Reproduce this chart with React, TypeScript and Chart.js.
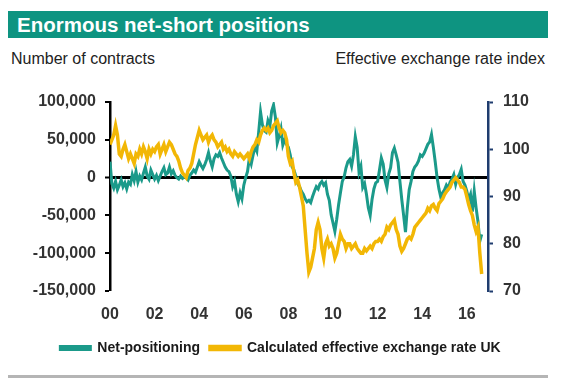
import React, { useEffect, useRef } from "react";
import { Chart, registerables } from "chart.js";

Chart.register(...registerables);

const TITLE = "Enormous net-short positions";
const LEFT_AXIS_TITLE = "Number of contracts";
const RIGHT_AXIS_TITLE = "Effective exchange rate index";
const SERIES_NAMES = ["Net-positioning", "Calculated effective exchange rate UK"];

// monthly observations starting January 2000
const START_YEAR = 2000;

// Net-positioning, thousands of contracts
const netPositioningK = [
  21, -8, -14, -5, -16, -10, -3, -12, -7, -15, -6, -9,
  4, -4, 8, -6, 2, -3, 6, 14, 2, -2, 10, 4,
  -2, 3, -4, 2, 8, 13, 4, 6, 14, 5, 9, 3,
  0, -2, 2, -1, 1, 0, -3, 3, 6, 10, 7, 14,
  21, 16, 12, 17, 24, 33, 22, 14, 25, 30, 28, 33,
  26, 20, 14, 10, 8, 2, -12, -5, -22, -32, -20, -28,
  -10, 0, 8, 26, 18, 30, 41, 35, 60, 87, 70, 62,
  60, 75, 68, 88, 96, 80, 46, 55, 65, 43, 50, 44,
  40, 30, 14, 10, 2, -8, -12, -18, -22, -28, -32, -30,
  -33, -25, -18, -12, -15, -8, -5, -10, -7, -22, -30, -49,
  -60, -71, -55, -36, -20, -5, 1, 13, 21, 24, 15, 30,
  54, 40, 7, 15, -13, -8, -22, -40, -50, -29, -15, -7,
  -5, 10, 26, 18, -3, -13, 5, 13, 33, 39, 30, 20,
  -5, -29, -50, -72, -40, -16, -5, 8, 14, 17, 22, 30,
  28, 32, 38, 44, 47, 57, 40, 21, 0, -15, -26, -20,
  -16, -10, -14, -6, -2, 4, -9, 0, 4, 11, -5, -10,
  -18, -29, -22, -45, -18, -40, -58, -84, -75,
];

// Calculated effective exchange rate UK, index
const exchangeRate = [
  101, 102, 103, 105, 103, 99, 98.5, 100, 101, 99.5, 98, 99,
  98, 97, 99, 98.5, 100, 99, 100.5, 99.5, 98, 100, 99, 100,
  99.5, 100.5, 101, 99, 100, 101, 99.5, 100.5, 101.5, 101, 100, 99,
  98.5, 97.5, 96, 95, 94.5, 94, 95.5, 96, 97, 99, 101, 102.5,
  104, 103, 102, 102.5, 103, 101.5, 102.5, 103, 102, 101.5, 100.5, 101,
  101.5, 100, 100.5, 99.5, 100, 99, 98.5, 99.5, 99, 98.5, 99, 98.5,
  98, 98.5, 99, 98, 99.5, 100.5, 101, 102, 101.5, 103, 104, 104.5,
  104, 104.5, 103.5, 104, 105, 105.5, 106, 104.5, 103.5, 104, 103.5, 102,
  98.5, 97, 97.5, 95, 93, 93.5, 92, 90, 88, 83, 78, 74,
  75, 77, 79, 83, 84.5, 83, 79, 77, 80, 81, 79.5, 80,
  79, 77, 78, 80, 82, 81, 80.5, 79, 80, 80, 79, 79.5,
  80, 79, 78.5, 78, 78, 79, 78.5, 79, 79.5, 79, 80, 80.5,
  80.5, 81, 80.5, 81.5, 82, 83.5, 83, 84, 84.5, 85, 83, 82,
  79.5, 78.4, 79, 80, 81, 81.4, 81, 82, 83.5, 84, 84.5, 85,
  85.5, 86, 86.5, 87.5, 87, 88, 88.3, 87.5, 87, 88.5, 89, 89.5,
  90.4, 91, 91.5, 92, 93, 93.5, 94, 93.5, 93, 92, 92, 91.5,
  90, 88.3, 87, 86, 84, 82.6, 83.5, 78, 73.6,
];

const X_TICK_YEARS = [2000, 2002, 2004, 2006, 2008, 2010, 2012, 2014, 2016];
const X_MIN = 2000;
const X_MAX = 2016.95;
const LEFT_MIN = -150000;
const LEFT_MAX = 100000;
const LEFT_STEP = 50000;
const RIGHT_MIN = 70;
const RIGHT_MAX = 110;
const RIGHT_STEP = 10;

const TEAL = "#1b9a8a";
const GOLD = "#f2b705";
const NAVY = "#1f3c6e";
const FONT = "'Liberation Sans', Arial, sans-serif";

export default function App() {
  const canvasRef = useRef<HTMLCanvasElement | null>(null);

  useEffect(() => {
    const canvas = canvasRef.current;
    if (!canvas) return;
    const toMonthYear = (i: number) => START_YEAR + i / 12;
    const tickFont = { family: FONT, size: 16, weight: "bold" };
    const chart = new Chart(canvas, {
      type: "line",
      data: {
        datasets: [
          {
            label: SERIES_NAMES[0],
            data: netPositioningK.map((v, i) => ({ x: toMonthYear(i), y: v * 1000 })),
            borderColor: TEAL,
            backgroundColor: TEAL,
            borderWidth: 3,
            pointRadius: 0,
            tension: 0,
            yAxisID: "y",
            order: 1,
          },
          {
            label: SERIES_NAMES[1],
            data: exchangeRate.map((v, i) => ({ x: toMonthYear(i), y: v })),
            borderColor: GOLD,
            backgroundColor: GOLD,
            borderWidth: 3.5,
            pointRadius: 0,
            tension: 0,
            yAxisID: "y1",
            order: 0,
          },
        ],
      },
      options: {
        animation: false,
        responsive: false,
        maintainAspectRatio: false,
        layout: { padding: { top: 22, bottom: 0, left: 0, right: 0 } },
        plugins: {
          tooltip: { enabled: false },
          legend: {
            position: "bottom",
            labels: {
              boxWidth: 30,
              boxHeight: 3,
              padding: 10,
              color: "#1a1a1a",
              font: { family: FONT, size: 14, weight: "bold" },
              sort: (a: any, b: any) => a.datasetIndex - b.datasetIndex,
            },
          },
        },
        scales: {
          x: {
            type: "linear",
            min: X_MIN,
            max: X_MAX,
            border: { display: false },
            grid: { display: false, drawTicks: false },
            afterFit: (s: any) => {
              s.height = 40;
            },
            afterBuildTicks: (s: any) => {
              s.ticks = X_TICK_YEARS.map((v) => ({ value: v }));
            },
            ticks: {
              autoSkip: false,
              maxRotation: 0,
              padding: 14,
              color: "#333",
              font: tickFont,
              callback: (v: any) => String(Number(v) % 100).padStart(2, "0"),
            },
          },
          y: {
            position: "left",
            min: LEFT_MIN,
            max: LEFT_MAX,
            afterFit: (s: any) => {
              s.width = 110;
            },
            border: { display: true, color: "#000", width: 2.5 },
            grid: {
              drawOnChartArea: true,
              color: (c: any) => (c.tick && c.tick.value === 0 ? "#000" : "rgba(0,0,0,0)"),
              lineWidth: (c: any) => (c.tick && c.tick.value === 0 ? 3 : 0),
              tickColor: "#000",
              tickLength: 5,
              tickWidth: 2,
            },
            ticks: {
              stepSize: LEFT_STEP,
              padding: 9,
              color: "#333",
              font: tickFont,
              callback: (v: any) => Number(v).toLocaleString("en-US"),
            },
          },
          y1: {
            position: "right",
            min: RIGHT_MIN,
            max: RIGHT_MAX,
            afterFit: (s: any) => {
              s.width = 73;
            },
            border: { display: true, color: NAVY, width: 2.5 },
            grid: {
              drawOnChartArea: false,
              tickColor: NAVY,
              tickLength: 5,
              tickWidth: 2,
            },
            ticks: {
              stepSize: RIGHT_STEP,
              padding: 10,
              color: "#333",
              font: tickFont,
            },
          },
        },
      },
    } as any);
    return () => chart.destroy();
  }, []);

  return (
    <div style={{ position: "absolute", left: 0, top: 0, width: 561, height: 378, background: "#fff", fontFamily: FONT }}>
      <div
        style={{
          position: "absolute",
          left: 8,
          top: 11,
          width: 540,
          height: 27,
          background: "#0e9481",
          color: "#fff",
          fontWeight: "bold",
          fontSize: 20.5,
          lineHeight: "27px",
          paddingLeft: 9,
          boxSizing: "border-box",
        }}
      >
        {TITLE}
      </div>
      <div style={{ position: "absolute", left: 11, top: 50, fontSize: 16, color: "#222" }}>{LEFT_AXIS_TITLE}</div>
      <div style={{ position: "absolute", right: 16, top: 50, fontSize: 16, color: "#222" }}>{RIGHT_AXIS_TITLE}</div>
      <canvas
        ref={canvasRef}
        width={561}
        height={285}
        style={{ position: "absolute", left: 0, top: 80, width: 561, height: 285 }}
      />
      <div style={{ position: "absolute", left: 8, top: 375, width: 540, height: 3, background: "#b5b5b5" }} />
    </div>
  );
}
